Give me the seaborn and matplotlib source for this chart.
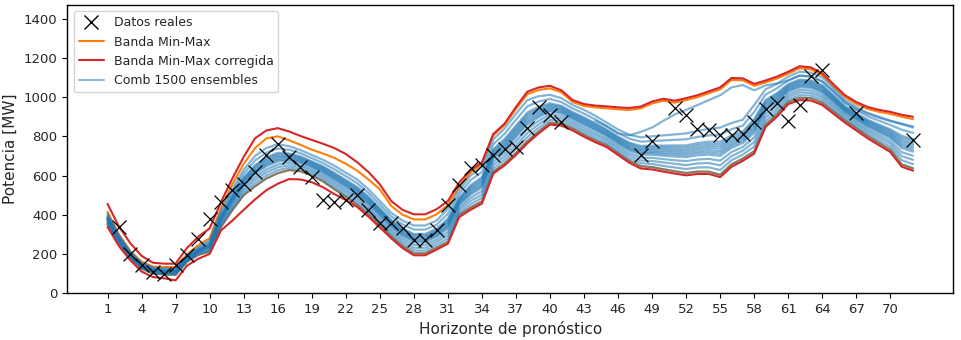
import numpy as np
import pandas as pd
import matplotlib
matplotlib.use("Agg")
import matplotlib.pyplot as plt
import seaborn as sns
from matplotlib.lines import Line2D

# ---------------- data ----------------
horizon = list(range(1, 73))

real_h = [2, 3, 4, 5, 6, 7, 8, 9, 10, 11, 12, 13, 14, 15, 16, 17, 18, 19, 20, 21,
          22, 23, 24, 25, 26, 27, 28, 29, 30, 31, 32, 33, 34, 35, 36, 37, 38, 39, 40, 41,
          48, 49, 51, 52, 53, 54, 55, 56, 57, 58, 59, 60, 61, 62, 63, 64, 67, 72]
real_v = [337, 201, 145, 107, 99, 141, 193, 278, 380, 465, 525, 559, 618, 704, 763, 695, 644, 593, 477, 465,
          477, 499, 423, 358, 358, 332, 273, 273, 324, 448, 550, 636, 652, 704, 738, 746, 843, 950, 908, 874,
          704, 775, 945, 911, 840, 831, 806, 806, 814, 874, 942, 968, 877, 959, 1107, 1138, 917, 780]

band_max = [414, 300, 215, 160, 135, 133, 133, 198, 245, 280,
            435, 555, 660, 740, 790, 800, 780, 757, 732, 712,
            690, 660, 625, 580, 530, 445, 400, 376, 376, 402,
            450, 542, 615, 660, 805, 858, 940, 1015, 1037, 1045,
            1025, 975, 955, 948, 943, 938, 935, 943, 968, 982,
            972, 985, 1000, 1020, 1040, 1088, 1086, 1058, 1075, 1095,
            1120, 1148, 1142, 1112, 1055, 1000, 965, 940, 925, 915,
            900, 888]
band_min = [352, 255, 180, 125, 100, 95, 93, 160, 195, 212,
            338, 423, 500, 545, 585, 612, 628, 622, 600, 570,
            530, 492, 452, 402, 348, 290, 240, 203, 203, 232,
            262, 400, 437, 468, 620, 662, 715, 775, 825, 870,
            865, 840, 808, 780, 755, 715, 675, 648, 643, 632,
            622, 613, 620, 620, 604, 657, 687, 724, 860, 912,
            977, 997, 995, 972, 927, 882, 842, 802, 767, 732,
            657, 637]
band_max_corr = [455, 340, 255, 190, 155, 150, 150, 230, 288, 330,
                 465, 585, 695, 790, 830, 842, 825, 802, 782, 762,
                 740, 710, 668, 618, 555, 470, 425, 402, 402, 428,
                 470, 565, 627, 668, 812, 865, 950, 1028, 1050, 1058,
                 1035, 985, 965, 957, 953, 948, 945, 952, 978, 992,
                 982, 995, 1010, 1030, 1050, 1098, 1096, 1068, 1085, 1105,
                 1130, 1158, 1152, 1122, 1065, 1010, 975, 950, 935, 925,
                 910, 900]
band_min_corr = [338, 240, 168, 110, 82, 75, 65, 140, 175, 200,
                 320, 370, 425, 478, 525, 558, 582, 580, 566, 540,
                 505, 475, 440, 390, 335, 280, 230, 193, 193, 222,
                 252, 388, 425, 457, 610, 652, 705, 765, 815, 860,
                 855, 830, 798, 770, 745, 705, 665, 636, 631, 620,
                 610, 601, 608, 608, 592, 645, 675, 712, 848, 900,
                 965, 985, 983, 960, 915, 870, 830, 790, 755, 720,
                 645, 625]

ens_1 = [357, 259, 183, 128, 103, 98, 96, 163, 199, 218,
         346, 434, 513, 560, 600, 627, 640, 633, 610, 581,
         542, 504, 465, 415, 360, 302, 253, 217, 217, 246,
         279, 412, 453, 486, 636, 680, 735, 796, 843, 884,
         878, 852, 821, 792, 766, 727, 688, 663, 659, 649,
         641, 633, 641, 642, 628, 678, 707, 748, 878, 928,
         990, 1010, 1008, 985, 939, 892, 853, 814, 780, 747,
         678, 658]
ens_2 = [363, 263, 186, 131, 106, 101, 100, 166, 203, 223,
         354, 444, 526, 576, 616, 642, 652, 644, 621, 592,
         554, 517, 478, 428, 372, 314, 266, 231, 231, 260,
         296, 425, 470, 503, 653, 698, 755, 817, 861, 898,
         891, 864, 833, 805, 778, 739, 702, 677, 674, 667,
         660, 653, 662, 664, 652, 699, 727, 771, 896, 943,
         1003, 1024, 1021, 998, 951, 903, 864, 826, 794, 762,
         699, 680]
ens_3 = [368, 267, 189, 134, 109, 104, 103, 169, 207, 229,
         363, 455, 539, 591, 631, 656, 665, 654, 631, 603,
         566, 529, 490, 440, 385, 326, 279, 246, 246, 273,
         312, 437, 486, 521, 669, 715, 775, 838, 879, 913,
         904, 876, 846, 817, 789, 751, 715, 692, 690, 684,
         678, 674, 682, 685, 676, 720, 746, 795, 914, 959,
         1015, 1037, 1034, 1010, 962, 913, 874, 837, 807, 776,
         719, 701]
ens_4 = [373, 271, 192, 137, 112, 107, 106, 172, 211, 234,
         371, 466, 552, 607, 647, 671, 677, 665, 642, 614,
         578, 541, 503, 453, 397, 338, 292, 260, 260, 287,
         329, 450, 502, 539, 686, 733, 795, 859, 897, 927,
         917, 888, 859, 830, 801, 763, 728, 707, 706, 701,
         697, 694, 703, 707, 700, 741, 766, 818, 932, 974,
         1028, 1050, 1047, 1023, 974, 923, 885, 849, 820, 791,
         740, 722]
ens_4b = [376, 273, 194, 139, 114, 109, 108, 174, 213, 237,
          375, 471, 559, 615, 655, 679, 683, 671, 647, 620,
          584, 548, 510, 460, 403, 344, 299, 267, 267, 294,
          338, 456, 510, 548, 694, 742, 805, 870, 906, 934,
          924, 894, 865, 836, 807, 769, 735, 714, 714, 710,
          707, 704, 714, 718, 712, 752, 776, 830, 941, 982,
          1035, 1057, 1054, 1030, 980, 929, 891, 855, 827, 799,
          751, 733]
ens_5 = [378, 275, 195, 140, 115, 110, 110, 175, 215, 240,
         379, 476, 565, 622, 662, 686, 689, 676, 652, 625,
         590, 554, 516, 466, 409, 350, 305, 274, 274, 301,
         346, 462, 518, 556, 702, 751, 815, 880, 915, 941,
         930, 900, 871, 842, 812, 775, 741, 721, 721, 718,
         716, 714, 724, 729, 724, 762, 786, 842, 950, 990,
         1041, 1064, 1060, 1036, 986, 934, 896, 861, 834, 806,
         761, 744]
ens_5b = [381, 277, 197, 142, 117, 112, 112, 177, 217, 243,
          383, 482, 572, 630, 670, 694, 695, 682, 658, 631,
          596, 560, 523, 473, 415, 356, 312, 281, 281, 308,
          355, 469, 527, 565, 711, 760, 825, 891, 924, 948,
          937, 906, 878, 849, 818, 781, 748, 729, 729, 727,
          726, 724, 735, 740, 737, 773, 796, 854, 959, 998,
          1048, 1071, 1067, 1043, 992, 939, 902, 867, 841, 814,
          772, 755]
ens_6 = [384, 279, 198, 143, 118, 114, 113, 178, 219, 246,
         387, 487, 578, 638, 678, 701, 701, 687, 663, 636,
         602, 566, 529, 479, 421, 362, 318, 288, 288, 315,
         363, 475, 535, 574, 719, 769, 835, 901, 933, 955,
         943, 912, 884, 855, 824, 787, 755, 736, 737, 736,
         735, 734, 745, 751, 749, 784, 806, 866, 968, 1006,
         1054, 1077, 1073, 1049, 998, 944, 907, 873, 847, 821,
         782, 765]
ens_6b = [387, 281, 200, 145, 120, 116, 115, 180, 221, 249,
          391, 493, 585, 646, 686, 709, 707, 693, 668, 642,
          608, 572, 536, 486, 427, 368, 325, 295, 295, 322,
          372, 481, 543, 583, 727, 778, 845, 912, 942, 962,
          950, 918, 891, 861, 830, 793, 762, 744, 745, 745,
          745, 744, 756, 762, 761, 795, 816, 878, 977, 1014,
          1061, 1084, 1080, 1056, 1004, 949, 913, 879, 854, 829,
          793, 776]
ens_7 = [389, 283, 201, 146, 121, 117, 116, 181, 223, 251,
         395, 498, 591, 653, 693, 716, 713, 698, 673, 647,
         614, 578, 542, 492, 433, 374, 331, 302, 302, 329,
         380, 487, 551, 592, 735, 787, 855, 922, 951, 969,
         956, 924, 897, 867, 835, 799, 768, 751, 753, 753,
         754, 754, 766, 773, 773, 805, 826, 889, 986, 1021,
         1067, 1090, 1086, 1062, 1010, 954, 918, 885, 860, 836,
         803, 786]
ens_8 = [397, 289, 206, 151, 126, 121, 121, 186, 229, 260,
         408, 514, 610, 677, 717, 738, 732, 714, 689, 663,
         632, 597, 561, 511, 452, 392, 351, 324, 324, 349,
         405, 506, 576, 618, 760, 813, 885, 953, 978, 991,
         975, 942, 916, 886, 853, 817, 788, 773, 776, 779,
         782, 785, 797, 805, 809, 836, 855, 925, 1013, 1045,
         1086, 1110, 1106, 1081, 1027, 970, 934, 902, 880, 858,
         834, 818]
ens_9 = [405, 295, 210, 155, 130, 126, 126, 190, 235, 268,
         420, 530, 630, 700, 740, 760, 750, 730, 705, 680,
         650, 615, 580, 530, 470, 410, 370, 345, 345, 370,
         430, 525, 600, 645, 785, 840, 915, 985, 1005, 1012,
         995, 960, 935, 905, 870, 835, 808, 795, 800, 805,
         810, 815, 828, 838, 845, 868, 885, 960, 1040, 1068,
         1105, 1130, 1125, 1100, 1045, 985, 950, 920, 900, 880,
         865, 850]
outlier_h = list(range(44, 73))
outlier_v = [880, 850, 815, 805, 823, 845, 880, 912, 935, 960,
             985, 1010, 1050, 1062, 1035, 1060, 1070, 1085, 1110, 1105,
             1080, 1030, 975, 940, 915, 895, 878, 862, 845]

xtick_pos = list(range(1, 72, 3))
xtick_labels = [str(t) for t in xtick_pos]

# ---------------- build tables ----------------
members = [band_min, ens_1, ens_2, ens_3, ens_4, ens_4b, ens_5, ens_5b,
           ens_6, ens_6b, ens_7, ens_8, ens_9]
rows = []
for i, m in enumerate(members):
    for h, v in zip(horizon, m):
        rows.append((i, h, v))
for h, v in zip(outlier_h, outlier_v):
    rows.append((len(members), h, v))
df_ens = pd.DataFrame(rows, columns=["member", "h", "v"])

df_band = pd.DataFrame({"h": horizon, "max": band_max, "min": band_min,
                        "max_c": band_max_corr, "min_c": band_min_corr})
df_real = pd.DataFrame({"h": real_h, "v": real_v})

# ---------------- plot ----------------
sns.set_theme(style="ticks")
plt.rcParams["font.family"] = ["DejaVu Sans"]
fig, ax = plt.subplots(figsize=(9.61, 3.4), dpi=100)
fig.subplots_adjust(left=0.070, right=0.992, bottom=0.138, top=0.985)

blue = "#1f77b4"
orange = "#ff7f0e"
red = "#d62728"

sns.lineplot(data=df_band, x="h", y="max", color=orange, lw=1.5, ax=ax, zorder=2)
sns.lineplot(data=df_band, x="h", y="min", color=orange, lw=1.5, ax=ax, zorder=2)
sns.lineplot(data=df_ens, x="h", y="v", units="member", estimator=None,
             color=blue, alpha=0.55, lw=1.6, ax=ax, legend=False, zorder=3)
sns.lineplot(data=df_band, x="h", y="max_c", color=red, lw=1.5, ax=ax, zorder=4)
sns.lineplot(data=df_band, x="h", y="min_c", color=red, lw=1.5, ax=ax, zorder=4)
sns.scatterplot(data=df_real, x="h", y="v", marker="x", color="black", s=100,
                linewidth=0.9, ax=ax, zorder=5)

ax.set_xlim(-2.55, 75.55)
ax.set_ylim(0, 1470)
ax.set_xticks(xtick_pos)
ax.set_xticklabels(xtick_labels)
ax.set_yticks(range(0, 1401, 200))
ax.tick_params(axis="both", labelsize=9.5, color="black", length=3.5, width=0.8)
for s in ax.spines.values():
    s.set_visible(True)
    s.set_color("black")
    s.set_linewidth(1.0)
ax.set_xlabel("Horizonte de pronóstico", fontsize=11)
ax.set_ylabel("Potencia [MW]", fontsize=11)

handles = [
    Line2D([], [], marker="x", color="black", linestyle="None", markersize=10, label="Datos reales"),
    Line2D([], [], color=orange, lw=1.5, label="Banda Min-Max"),
    Line2D([], [], color=red, lw=1.5, label="Banda Min-Max corregida"),
    Line2D([], [], color=blue, alpha=0.5, lw=1.5, label="Comb 1500 ensembles"),
]
ax.legend(handles=handles, loc="upper left", fontsize=9, frameon=True)

fig.savefig("out.png", dpi=100)
